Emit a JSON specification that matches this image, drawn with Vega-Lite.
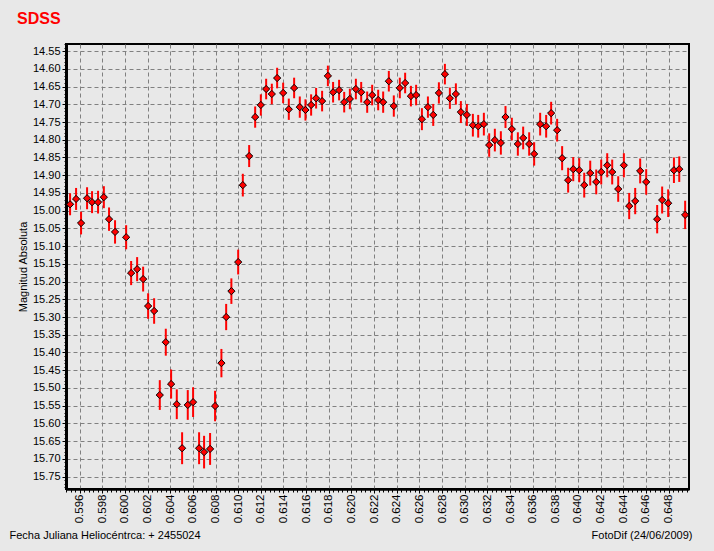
{
  "$schema": "https://vega.github.io/schema/vega-lite/v6.json",
  "width": 623,
  "height": 445,
  "autosize": "none",
  "padding": {"left": 66, "top": 44, "right": 25, "bottom": 62},
  "background": "#E8E8E8",
  "title": {
    "text": "SDSS",
    "anchor": "start",
    "frame": "group",
    "dx": -49,
    "dy": 17,
    "offset": 21,
    "baseline": "alphabetic",
    "color": "#FF0000",
    "font": "Liberation Sans",
    "fontSize": 16,
    "fontWeight": "bold"
  },
  "config": {
    "view": {"stroke": "#000000", "strokeWidth": 2, "fill": "#E8E8E8"}
  },
  "data": {
    "values": [
      {"t": 0.59516, "mag": 14.982, "err": 0.031},
      {"t": 0.59569, "mag": 14.967, "err": 0.031},
      {"t": 0.59613, "mag": 15.035, "err": 0.032},
      {"t": 0.59666, "mag": 14.965, "err": 0.031},
      {"t": 0.5971, "mag": 14.976, "err": 0.031},
      {"t": 0.59763, "mag": 14.976, "err": 0.032},
      {"t": 0.59814, "mag": 14.962, "err": 0.031},
      {"t": 0.5986, "mag": 15.024, "err": 0.033},
      {"t": 0.59913, "mag": 15.06, "err": 0.033},
      {"t": 0.60011, "mag": 15.075, "err": 0.034},
      {"t": 0.60055, "mag": 15.176, "err": 0.034},
      {"t": 0.60108, "mag": 15.165, "err": 0.034},
      {"t": 0.60161, "mag": 15.193, "err": 0.035},
      {"t": 0.60205, "mag": 15.269, "err": 0.036},
      {"t": 0.60258, "mag": 15.283, "err": 0.036},
      {"t": 0.60308, "mag": 15.52, "err": 0.042},
      {"t": 0.60361, "mag": 15.371, "err": 0.038},
      {"t": 0.60408, "mag": 15.489, "err": 0.041},
      {"t": 0.60458, "mag": 15.546, "err": 0.042},
      {"t": 0.60505, "mag": 15.67, "err": 0.045},
      {"t": 0.60555, "mag": 15.548, "err": 0.042},
      {"t": 0.60602, "mag": 15.54, "err": 0.042},
      {"t": 0.60655, "mag": 15.67, "err": 0.045},
      {"t": 0.60699, "mag": 15.681, "err": 0.046},
      {"t": 0.60752, "mag": 15.672, "err": 0.045},
      {"t": 0.60796, "mag": 15.551, "err": 0.043},
      {"t": 0.60852, "mag": 15.43, "err": 0.04},
      {"t": 0.60894, "mag": 15.3, "err": 0.037},
      {"t": 0.6094, "mag": 15.227, "err": 0.036},
      {"t": 0.61, "mag": 15.145, "err": 0.035},
      {"t": 0.61041, "mag": 14.928, "err": 0.032},
      {"t": 0.61097, "mag": 14.846, "err": 0.031},
      {"t": 0.6115, "mag": 14.736, "err": 0.03},
      {"t": 0.612, "mag": 14.702, "err": 0.03},
      {"t": 0.61247, "mag": 14.657, "err": 0.029},
      {"t": 0.61297, "mag": 14.671, "err": 0.029},
      {"t": 0.61344, "mag": 14.626, "err": 0.029},
      {"t": 0.61397, "mag": 14.668, "err": 0.029},
      {"t": 0.61447, "mag": 14.714, "err": 0.03},
      {"t": 0.61494, "mag": 14.654, "err": 0.029},
      {"t": 0.61544, "mag": 14.708, "err": 0.03},
      {"t": 0.61594, "mag": 14.716, "err": 0.03},
      {"t": 0.61644, "mag": 14.702, "err": 0.03},
      {"t": 0.61688, "mag": 14.683, "err": 0.029},
      {"t": 0.61741, "mag": 14.691, "err": 0.029},
      {"t": 0.61792, "mag": 14.62, "err": 0.029},
      {"t": 0.61838, "mag": 14.666, "err": 0.029},
      {"t": 0.61891, "mag": 14.66, "err": 0.029},
      {"t": 0.61936, "mag": 14.694, "err": 0.029},
      {"t": 0.61986, "mag": 14.685, "err": 0.029},
      {"t": 0.62039, "mag": 14.657, "err": 0.029},
      {"t": 0.62086, "mag": 14.666, "err": 0.029},
      {"t": 0.62139, "mag": 14.694, "err": 0.03},
      {"t": 0.62183, "mag": 14.674, "err": 0.029},
      {"t": 0.62236, "mag": 14.688, "err": 0.029},
      {"t": 0.6228, "mag": 14.694, "err": 0.03},
      {"t": 0.6233, "mag": 14.635, "err": 0.029},
      {"t": 0.62374, "mag": 14.705, "err": 0.03},
      {"t": 0.62427, "mag": 14.654, "err": 0.029},
      {"t": 0.62474, "mag": 14.64, "err": 0.029},
      {"t": 0.62525, "mag": 14.677, "err": 0.029},
      {"t": 0.62571, "mag": 14.674, "err": 0.029},
      {"t": 0.62622, "mag": 14.742, "err": 0.031},
      {"t": 0.62675, "mag": 14.708, "err": 0.03},
      {"t": 0.62722, "mag": 14.73, "err": 0.031},
      {"t": 0.62772, "mag": 14.668, "err": 0.03},
      {"t": 0.62825, "mag": 14.615, "err": 0.029},
      {"t": 0.62869, "mag": 14.683, "err": 0.03},
      {"t": 0.62922, "mag": 14.671, "err": 0.03},
      {"t": 0.62966, "mag": 14.722, "err": 0.031},
      {"t": 0.63019, "mag": 14.73, "err": 0.031},
      {"t": 0.63072, "mag": 14.759, "err": 0.032},
      {"t": 0.63119, "mag": 14.762, "err": 0.032},
      {"t": 0.63169, "mag": 14.756, "err": 0.032},
      {"t": 0.63216, "mag": 14.815, "err": 0.033},
      {"t": 0.63266, "mag": 14.801, "err": 0.032},
      {"t": 0.63319, "mag": 14.809, "err": 0.033},
      {"t": 0.6336, "mag": 14.736, "err": 0.031},
      {"t": 0.63416, "mag": 14.77, "err": 0.032},
      {"t": 0.63469, "mag": 14.812, "err": 0.033},
      {"t": 0.63516, "mag": 14.795, "err": 0.032},
      {"t": 0.63569, "mag": 14.812, "err": 0.033},
      {"t": 0.63613, "mag": 14.84, "err": 0.033},
      {"t": 0.63666, "mag": 14.756, "err": 0.032},
      {"t": 0.63719, "mag": 14.762, "err": 0.032},
      {"t": 0.63763, "mag": 14.725, "err": 0.032},
      {"t": 0.63816, "mag": 14.773, "err": 0.032},
      {"t": 0.6386, "mag": 14.852, "err": 0.034},
      {"t": 0.63913, "mag": 14.914, "err": 0.035},
      {"t": 0.63958, "mag": 14.883, "err": 0.034},
      {"t": 0.64011, "mag": 14.886, "err": 0.034},
      {"t": 0.64055, "mag": 14.928, "err": 0.035},
      {"t": 0.64108, "mag": 14.894, "err": 0.035},
      {"t": 0.64161, "mag": 14.919, "err": 0.035},
      {"t": 0.64205, "mag": 14.891, "err": 0.035},
      {"t": 0.64258, "mag": 14.872, "err": 0.034},
      {"t": 0.64302, "mag": 14.891, "err": 0.035},
      {"t": 0.64355, "mag": 14.939, "err": 0.036},
      {"t": 0.64405, "mag": 14.872, "err": 0.034},
      {"t": 0.64452, "mag": 14.987, "err": 0.037},
      {"t": 0.64505, "mag": 14.973, "err": 0.037},
      {"t": 0.64549, "mag": 14.888, "err": 0.035},
      {"t": 0.64602, "mag": 14.919, "err": 0.036},
      {"t": 0.64699, "mag": 15.024, "err": 0.04},
      {"t": 0.64743, "mag": 14.97, "err": 0.038},
      {"t": 0.64796, "mag": 14.979, "err": 0.039},
      {"t": 0.64847, "mag": 14.886, "err": 0.036},
      {"t": 0.64894, "mag": 14.883, "err": 0.036},
      {"t": 0.64946, "mag": 15.012, "err": 0.04}
    ]
  },
  "layer": [
    {
      "mark": {"type": "errorbar", "color": "#FF0000", "thickness": 2},
      "encoding": {
        "x": {
          "field": "t",
          "type": "quantitative",
          "scale": {"domain": [0.5948, 0.6498], "nice": false, "zero": false},
          "axis": {
            "orient": "bottom",
            "values": [0.596,0.598,0.6,0.602,0.604,0.606,0.608,0.61,0.612,0.614,0.616,0.618,0.62,0.622,0.624,0.626,0.628,0.63,0.632,0.634,0.636,0.638,0.64,0.642,0.644,0.646,0.648],
            "format": ".3f",
            "labelAngle": 270,
            "labelFont": "Liberation Sans",
            "labelFontSize": 11.5,
            "labelColor": "#000000",
            "labelPadding": 1,
            "labelFlush": false,
            "labelOverlap": false,
            "tickSize": 4,
            "tickColor": "#000000",
            "domainColor": "#000000",
            "domainWidth": 2.5,
            "grid": true,
            "gridColor": "#808080",
            "gridDash": [4, 3],
            "gridWidth": 1,
            "title": "Fecha Juliana Heliocéntrca:  + 2455024",
            "titleFont": "Liberation Sans",
            "titleFontSize": 11,
            "titleFontWeight": "normal",
            "titleColor": "#000000",
            "titleX": -57,
            "titleY": 49,
            "titleAlign": "left",
            "titleBaseline": "alphabetic",
            "titleAngle": 0
          }
        },
        "y": {
          "field": "mag",
          "type": "quantitative",
          "scale": {"domain": [14.53, 15.785], "reverse": true, "nice": false, "zero": false},
          "axis": {
            "orient": "left",
            "values": [14.55,14.6,14.65,14.7,14.75,14.8,14.85,14.9,14.95,15,15.05,15.1,15.15,15.2,15.25,15.3,15.35,15.4,15.45,15.5,15.55,15.6,15.65,15.7,15.75],
            "format": ".2f",
            "labelFont": "Liberation Sans",
            "labelFontSize": 11,
            "labelColor": "#000000",
            "labelPadding": 2,
            "labelFlush": false,
            "labelOverlap": false,
            "tickSize": 4,
            "tickColor": "#000000",
            "domainColor": "#000000",
            "domainWidth": 3,
            "grid": true,
            "gridColor": "#808080",
            "gridDash": [4, 3],
            "gridWidth": 1,
            "title": "Magnitud Absoluta",
            "titleFont": "Liberation Sans",
            "titleFontSize": 11,
            "titleFontWeight": "normal",
            "titleColor": "#000000",
            "titleAngle": 270,
            "titleX": -43,
            "titleY": 222.5,
            "titleAlign": "center",
            "titleBaseline": "middle"
          }
        },
        "yError": {"field": "err"}
      }
    },
    {
      "mark": {"type": "point", "shape": "diamond", "filled": true, "fill": "#FF0000", "stroke": "#000000", "strokeWidth": 1, "size": 52, "opacity": 1},
      "encoding": {
        "x": {
          "field": "t",
          "type": "quantitative",
          "scale": {"domain": [0.5948, 0.6498], "nice": false, "zero": false},
          "axis": {
            "orient": "bottom",
            "values": [0.5948,0.5952,0.5956,0.596,0.5964,0.5968,0.5972,0.5976,0.598,0.5984,0.5988,0.5992,0.5996,0.6,0.6004,0.6008,0.6012,0.6016,0.602,0.6024,0.6028,0.6032,0.6036,0.604,0.6044,0.6048,0.6052,0.6056,0.606,0.6064,0.6068,0.6072,0.6076,0.608,0.6084,0.6088,0.6092,0.6096,0.61,0.6104,0.6108,0.6112,0.6116,0.612,0.6124,0.6128,0.6132,0.6136,0.614,0.6144,0.6148,0.6152,0.6156,0.616,0.6164,0.6168,0.6172,0.6176,0.618,0.6184,0.6188,0.6192,0.6196,0.62,0.6204,0.6208,0.6212,0.6216,0.622,0.6224,0.6228,0.6232,0.6236,0.624,0.6244,0.6248,0.6252,0.6256,0.626,0.6264,0.6268,0.6272,0.6276,0.628,0.6284,0.6288,0.6292,0.6296,0.63,0.6304,0.6308,0.6312,0.6316,0.632,0.6324,0.6328,0.6332,0.6336,0.634,0.6344,0.6348,0.6352,0.6356,0.636,0.6364,0.6368,0.6372,0.6376,0.638,0.6384,0.6388,0.6392,0.6396,0.64,0.6404,0.6408,0.6412,0.6416,0.642,0.6424,0.6428,0.6432,0.6436,0.644,0.6444,0.6448,0.6452,0.6456,0.646,0.6464,0.6468,0.6472,0.6476,0.648,0.6484,0.6488,0.6492,0.6496],
            "labels": false,
            "grid": false,
            "domain": false,
            "tickSize": 3,
            "tickColor": "#000000",
            "title": "FotoDif (24/06/2009)",
            "titleFont": "Liberation Sans",
            "titleFontSize": 11,
            "titleFontWeight": "normal",
            "titleColor": "#000000",
            "titleX": 626,
            "titleY": 49,
            "titleAlign": "right",
            "titleBaseline": "alphabetic",
            "titleAngle": 0
          }
        },
        "y": {
          "field": "mag",
          "type": "quantitative",
          "scale": {"domain": [14.53, 15.785], "reverse": true, "nice": false, "zero": false},
          "axis": {
            "orient": "left",
            "values": [14.53,14.54,14.55,14.56,14.57,14.58,14.59,14.6,14.61,14.62,14.63,14.64,14.65,14.66,14.67,14.68,14.69,14.7,14.71,14.72,14.73,14.74,14.75,14.76,14.77,14.78,14.79,14.8,14.81,14.82,14.83,14.84,14.85,14.86,14.87,14.88,14.89,14.9,14.91,14.92,14.93,14.94,14.95,14.96,14.97,14.98,14.99,15,15.01,15.02,15.03,15.04,15.05,15.06,15.07,15.08,15.09,15.1,15.11,15.12,15.13,15.14,15.15,15.16,15.17,15.18,15.19,15.2,15.21,15.22,15.23,15.24,15.25,15.26,15.27,15.28,15.29,15.3,15.31,15.32,15.33,15.34,15.35,15.36,15.37,15.38,15.39,15.4,15.41,15.42,15.43,15.44,15.45,15.46,15.47,15.48,15.49,15.5,15.51,15.52,15.53,15.54,15.55,15.56,15.57,15.58,15.59,15.6,15.61,15.62,15.63,15.64,15.65,15.66,15.67,15.68,15.69,15.7,15.71,15.72,15.73,15.74,15.75,15.76,15.77,15.78],
            "labels": false,
            "grid": false,
            "domain": false,
            "tickSize": 2,
            "tickColor": "#000000",
            "title": null
          }
        }
      }
    }
  ],
  "resolve": {"axis": {"x": "independent", "y": "independent"}}
}
